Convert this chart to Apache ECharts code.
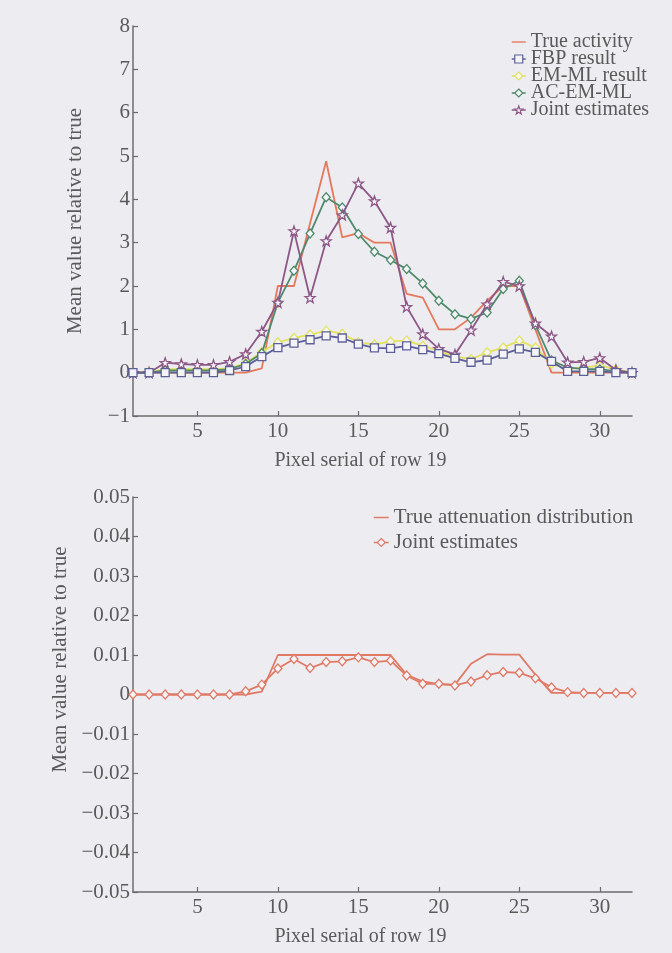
<!DOCTYPE html>
<html>
<head>
<meta charset="utf-8">
<script src="https://cdn.jsdelivr.net/npm/echarts@6/dist/echarts.min.js"></script>
<style>
html,body{margin:0;padding:0;background:#ededf1;}
#c{width:672px;height:953px;}
</style>
</head>
<body>
<div id="c"></div>
<script>
// ---------- data ----------
const pixels = [1,2,3,4,5,6,7,8,9,10,11,12,13,14,15,16,17,18,19,20,21,22,23,24,25,26,27,28,29,30,31,32];
const xTicks = [5,10,15,20,25,30];

const trueActivity = [0,0,0,0,0,0,0,0,0.1,2.0,2.0,3.45,4.88,3.12,3.22,3.0,3.0,1.82,1.73,1.0,1.0,1.27,1.66,2.0,2.0,1.0,0,0,0,0,0,0];
const fbpResult    = [0,0,0,0,0,0,0.05,0.14,0.37,0.58,0.68,0.76,0.85,0.8,0.66,0.57,0.56,0.62,0.53,0.44,0.33,0.24,0.29,0.43,0.55,0.47,0.26,0.03,0.03,0.03,0,0];
const emmlResult   = [0.02,0.02,0.08,0.08,0.08,0.08,0.1,0.22,0.48,0.7,0.8,0.88,0.97,0.9,0.7,0.65,0.72,0.74,0.62,0.5,0.37,0.31,0.47,0.58,0.74,0.58,0.2,0.08,0.12,0.16,0.08,0];
const acemmlResult = [0,0,0.05,0.05,0.05,0.05,0.08,0.2,0.45,1.62,2.35,3.21,4.05,3.81,3.2,2.79,2.6,2.39,2.06,1.66,1.35,1.24,1.39,1.93,2.12,1.1,0.28,0.12,0.08,0.08,0.03,0];
const jointActivity= [0,0,0.23,0.2,0.18,0.18,0.25,0.43,0.95,1.62,3.27,1.73,3.04,3.64,4.37,3.96,3.35,1.52,0.89,0.55,0.42,0.98,1.58,2.1,2.0,1.14,0.84,0.24,0.25,0.34,0.06,0];

const trueAtten  = [0,0,0,0,0,0,0,0,0.0007,0.01,0.01,0.01,0.01,0.01,0.01,0.01,0.01,0.005,0.0033,0.0026,0.0025,0.0078,0.0102,0.0101,0.0101,0.005,0.0004,0.0004,0.0004,0.0004,0.0004,0.0004];
const jointAtten = [0,0,0,0,0,0,0,0.0008,0.0025,0.0066,0.009,0.0067,0.0082,0.0084,0.0094,0.0082,0.0086,0.0048,0.0027,0.0027,0.0023,0.0033,0.0049,0.0057,0.0055,0.0041,0.0018,0.0006,0.0004,0.0004,0.0004,0.0004];

// ---------- styling ----------
const FONT = 'Liberation Serif';
const TXT = '#5a5a5a';
const AX = '#6c6c6c';
const BG = '#ededf1';
const FILL = '#f4f4f8';
const STAR = 'path://M0,-10 L2.35,-3.24 9.51,-3.09 3.8,1.24 5.88,8.09 0,4 -5.88,8.09 -3.8,1.24 -9.51,-3.09 -2.35,-3.24 Z';
const DASH = 'path://M0,0 H20 V2 H0 Z';
const C = {
  trueAct:'#e6795c', fbp:'#5d6096', emml:'#e2e25c', ac:'#4f8a6c', joint:'#8d5887', atten:'#e07a66'
};

const pairs = arr => pixels.map((p,i)=>[p,arr[i]]);

function xAxisCfg(gi){
  return {
    type:'value', gridIndex:gi, min:1, max:32,
    name:'Pixel serial of row 19', nameLocation:'middle', nameGap:35,
    nameTextStyle:{fontFamily:FONT,fontSize:20,color:TXT,padding:[0,44,0,0]},
    axisLine:{show:true,onZero:false,lineStyle:{color:AX,width:1.5}},
    axisTick:{show:true,inside:true,length:5,customValues:xTicks,lineStyle:{color:AX,width:1.2}},
    axisLabel:{customValues:xTicks,fontFamily:FONT,fontSize:21,color:TXT,margin:5},
    splitLine:{show:false}
  };
}
function yAxisCfg(gi,min,max,interval,fmt,pad){
  return {
    type:'value', gridIndex:gi, min:min, max:max, interval:interval,
    name:'Mean value relative to true', nameLocation:'middle', nameGap:47,
    nameTextStyle:{fontFamily:FONT,fontSize:21,color:TXT,padding:pad},
    axisLine:{show:true,onZero:false,lineStyle:{color:AX,width:1.5}},
    axisTick:{show:true,inside:true,length:5,lineStyle:{color:AX,width:1.2}},
    axisLabel:{formatter:fmt,fontFamily:FONT,fontSize:21,color:TXT,margin:3},
    splitLine:{show:false}
  };
}
const fmtTop = v => v<0 ? '\u2212'+Math.abs(v) : String(v);
const fmtBot = v => { const r=Math.round(v*100)/100; if(r===0) return '0'; return (r<0?'\u2212':'')+Math.abs(r).toFixed(2); };

function lineSeries(name,data,color,symbol,size,gi,z){
  return {
    type:'line', name:name, data:pairs(data), xAxisIndex:gi, yAxisIndex:gi,
    symbol:symbol, symbolSize:size, showSymbol:symbol!=='none', z:z,
    lineStyle:{color:color,width:1.8},
    itemStyle:{color:symbol==='none'?color:FILL,borderColor:color,borderWidth:1.3},
    emphasis:{disabled:true}, animation:false
  };
}
function legLine(name,color){
  return {name:name,icon:DASH,itemStyle:{color:color,borderWidth:0}};
}
function legSym(name,color){
  return {name:name,itemStyle:{color:FILL,borderColor:color,borderWidth:1.2},lineStyle:{color:color,width:1.5}};
}

const chart = echarts.init(document.getElementById('c'),null,{renderer:'canvas'});
chart.setOption({
  backgroundColor:BG,
  animation:false,
  grid:[
    {left:133,top:26,width:499,height:390},
    {left:133,top:497,width:499,height:395}
  ],
  xAxis:[xAxisCfg(0),xAxisCfg(1)],
  yAxis:[
    yAxisCfg(0,-1,8,1,fmtTop,[0,0,0,0]),
    yAxisCfg(1,-0.05,0.05,0.01,fmtBot,[0,0,0,70])
  ],
  legend:[
    {
      left:506, top:27, orient:'vertical', itemGap:-3, itemWidth:14, itemHeight:10,
      data:[legLine('True activity',C.trueAct),legSym('FBP result',C.fbp),legSym('EM-ML result',C.emml),legSym('AC-EM-ML',C.ac),legSym('Joint estimates',C.joint)],
      textStyle:{fontFamily:FONT,fontSize:20,color:TXT},
      selectedMode:false
    },
    {
      left:368, top:502, orient:'vertical', itemGap:4, itemWidth:15, itemHeight:10,
      data:[legLine('True attenuation distribution',C.atten),legSym('Joint estimates ',C.atten)],
      textStyle:{fontFamily:FONT,fontSize:21,color:TXT},
      selectedMode:false
    }
  ],
  series:[
    lineSeries('True activity',trueActivity,C.trueAct,'none',0,0,2),
    lineSeries('EM-ML result',emmlResult,C.emml,'diamond',[8,9],0,3),
    lineSeries('AC-EM-ML',acemmlResult,C.ac,'diamond',[8,9],0,4),
    lineSeries('Joint estimates',jointActivity,C.joint,STAR,10,0,5),
    lineSeries('FBP result',fbpResult,C.fbp,'rect',8,0,6),
    lineSeries('True attenuation distribution',trueAtten,C.atten,'none',0,1,2),
    lineSeries('Joint estimates ',jointAtten,C.atten,'diamond',[8,9],1,3)
  ]
});
</script>
</body>
</html>
